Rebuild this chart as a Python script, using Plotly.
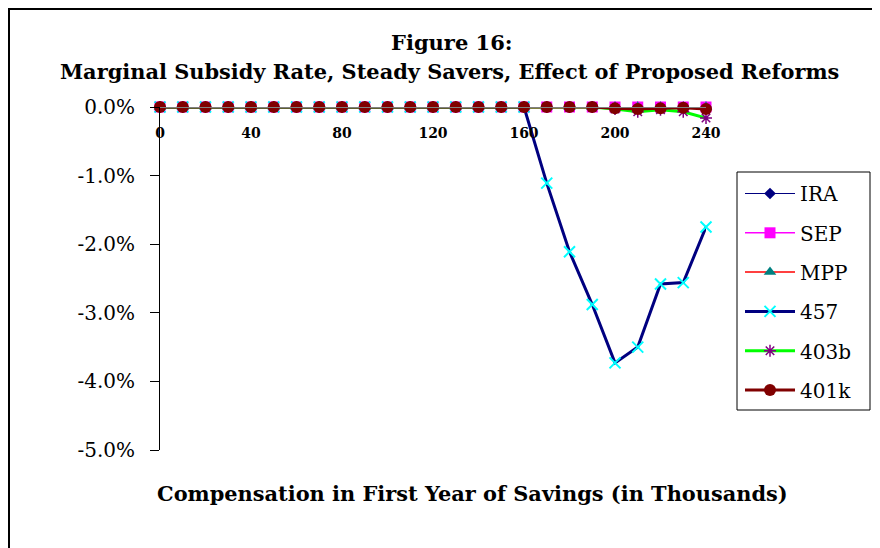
import plotly.graph_objects as go

# Compensation in first year of savings (thousands)
compensation = [0, 10, 20, 30, 40, 50, 60, 70, 80, 90, 100, 110, 120,
                130, 140, 150, 160, 170, 180, 190, 200, 210, 220, 230, 240]

# Marginal subsidy rate (percent)
ira = [0.0] * 25
sep = [0.0] * 25
mpp = [0.0] * 25
s457 = [0.0] * 17 + [-1.11, -2.11, -2.88, -3.73, -3.50, -2.58, -2.56, -1.75]
s403b = [0.0] * 20 + [-0.03, -0.07, -0.04, -0.07, -0.16]
s401k = [0.0] * 20 + [-0.02, -0.03, -0.02, -0.01, -0.03]

y_ticks = [0, -1, -2, -3, -4, -5]
y_labels = ['0.0%', '-1.0%', '-2.0%', '-3.0%', '-4.0%', '-5.0%']
x_ticks = [0, 40, 80, 120, 160, 200, 240]

serif = 'DejaVu Serif'

# page has an 8px body margin, so plot area (page px) is x 160..706, y 107..450
def px(x):
    return (x - 160) / 546

def py(y):
    return (450 - y) / 343

fig = go.Figure()

series = [
    ('IRA', ira, dict(color='#000080', width=1), dict(symbol='diamond', size=9, color='#000080')),
    ('SEP', sep, dict(color='#ff00ff', width=1.5), dict(symbol='square', size=11, color='#ff00ff')),
    ('MPP', mpp, dict(color='#ff0000', width=1.5), dict(symbol='triangle-up', size=11, color='#008080')),
    ('457', s457, dict(color='#000080', width=3), dict(symbol='x-thin', size=11, color='#00ffff',
                                                    line=dict(color='#00ffff', width=2))),
    ('403b', s403b, dict(color='#00ff00', width=3), dict(symbol='asterisk', size=10, color='#800080',
                                                      line=dict(color='#800080', width=1.5))),
    ('401k', s401k, dict(color='#800000', width=3), dict(symbol='circle', size=12, color='#800000')),
]

for name, vals, line, marker in series:
    fig.add_trace(go.Scatter(x=compensation, y=vals, mode='lines+markers', name=name,
                             line=line, marker=marker, cliponaxis=False, legendgroup=name))

fig.update_layout(
    width=872, height=540,
    margin=dict(l=152, r=174, t=99, b=98),
    paper_bgcolor='white', plot_bgcolor='white',
    font=dict(family=serif, color='black'),
    showlegend=True,
    legend=dict(x=px(740), y=py(174), xanchor='left', yanchor='top',
                borderwidth=0, bgcolor='rgba(0,0,0,0)',
                font=dict(family=serif, size=20), itemwidth=50,
                tracegroupgap=10.3),
    xaxis=dict(range=[0, 240], tickvals=x_ticks, showgrid=False, zeroline=False,
               anchor='free', position=1, side='bottom', showline=True, linecolor='gray',
               ticks='', ticklabelstandoff=13,
               tickfont=dict(family=serif, size=14, weight='bold')),
    yaxis=dict(range=[-5, 0], tickvals=y_ticks, ticktext=y_labels, showgrid=False,
               zeroline=False, showline=True, linecolor='black', linewidth=1,
               ticks='outside', ticklen=9, tickcolor='black', ticklabelstandoff=11,
               tickfont=dict(family=serif, size=20)),
    shapes=[
        # chart area border
        dict(type='rect', xref='paper', yref='paper',
             x0=px(9), x1=px(900), y0=py(570), y1=py(9),
             line=dict(color='black', width=2)),
        # legend box
        dict(type='rect', xref='paper', yref='paper',
             x0=px(737), x1=px(870), y0=py(410), y1=py(172),
             line=dict(color='black', width=1), fillcolor='white', layer='below'),
    ],
    annotations=[
        dict(text='<b>Figure 16:</b>', xref='paper', yref='paper',
             x=px(452), y=py(43), showarrow=False,
             font=dict(family=serif, size=21), xanchor='center', yanchor='middle'),
        dict(text='<b>Marginal Subsidy Rate, Steady Savers, Effect of Proposed Reforms</b>',
             xref='paper', yref='paper', x=px(449), y=py(71), showarrow=False,
             font=dict(family=serif, size=20.9), xanchor='center', yanchor='middle'),
        dict(text='<b>Compensation in First Year of Savings (in Thousands)</b>',
             xref='paper', yref='paper', x=px(472), y=py(493), showarrow=False,
             font=dict(family=serif, size=20.9), xanchor='center', yanchor='middle'),
    ],
)

fig.write_html('out.html')
